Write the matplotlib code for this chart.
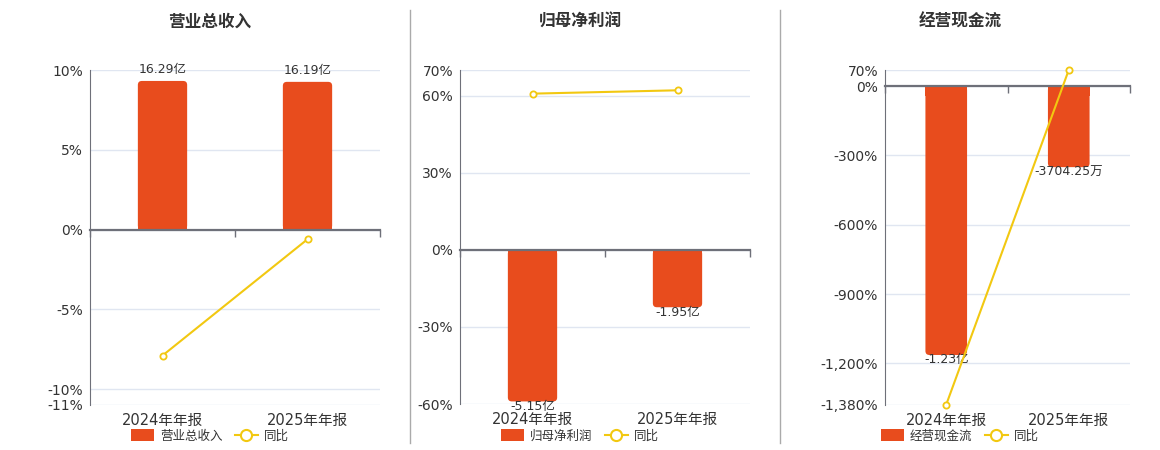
import matplotlib
matplotlib.use("Agg")
import matplotlib.pyplot as plt
from matplotlib.patches import FancyBboxPatch, Patch
from matplotlib.lines import Line2D
from matplotlib.transforms import blended_transform_factory
from matplotlib.ticker import FuncFormatter

plt.rcParams['font.family'] = ['DejaVu Sans', 'Noto Sans CJK SC']

categories = ['2024年年报', '2025年年报']

titles = ['营业总收入', '归母净利润', '经营现金流']

revenue = [16.29, 16.19]            # 亿
revenue_labels = ['16.29亿', '16.19亿']
revenue_yoy = [-7.9, -0.61]         # %

profit = [-5.15, -1.95]             # 亿
profit_labels = ['-5.15亿', '-1.95亿']
profit_yoy = [60.8, 62.1]

cashflow = [-1.23, -0.370425]       # 亿
cashflow_labels = ['-1.23亿', '-3704.25万']
cashflow_yoy = [-1378.0, 69.9]

pct_ticks = [[10, 5, 0, -5, -10, -11],
             [70, 60, 30, 0, -30, -60],
             [70, 0, -300, -600, -900, -1200, -1380]]

BAR = '#E84C1D'
LINE = '#F2C811'
AXC = '#6E7079'
GRID = '#E0E6F1'
TXT = '#333333'

W, H = 1160, 450
fig = plt.figure(figsize=(W / 100, H / 100), dpi=100)

panels = [
    dict(box=(90, 70, 380, 405), bars=revenue, labels=revenue_labels, yoy=revenue_yoy,
         plim=(-11, 10), btop=17.49, lab_pos='above', center=210),
    dict(box=(460, 70, 750, 404), bars=profit, labels=profit_labels, yoy=profit_yoy,
         plim=(-60, 70), btop=6.11, lab_pos='below', center=580),
    dict(box=(885, 70, 1130, 405), bars=cashflow, labels=cashflow_labels, yoy=cashflow_yoy,
         plim=(-1380, 70), btop=0.074, lab_pos='below', center=960),
]

def fmt_pct(v, pos=None):
    return f"{int(round(v)):,}%"

for i, p in enumerate(panels):
    l, t, r, b = p['box']
    ax = fig.add_axes([l / W, 1 - b / H, (r - l) / W, (b - t) / H])
    ax2 = ax.twinx()
    lo_p, hi_p = p['plim']
    btop = p['btop']
    bbot = btop * lo_p / hi_p
    ax.set_ylim(bbot, btop)
    ax.set_xlim(-0.5, 1.5)
    ax2.set_ylim(lo_p, hi_p)

    # grid lines (behind bars) in percent units
    tr = blended_transform_factory(ax.transAxes, ax2.transData)
    for tv in pct_ticks[i]:
        ax.plot([0, 1], [tv, tv], transform=tr, color=GRID, lw=1, zorder=0)

    x = list(range(len(categories)))
    bw = 0.34
    cont = ax.bar(x, p['bars'], width=bw, color=BAR, zorder=1)
    # rounded outer corners
    xpp = 2.0 / (r - l)
    ypp = (btop - bbot) / (b - t)
    asp = ypp / xpp
    rad = 4 * xpp
    for rect, v in zip(cont, p['bars']):
        rect.set_visible(False)
        x0 = rect.get_x()
        fb = FancyBboxPatch((x0, min(0, v)), bw, abs(v),
                            boxstyle=f"round,pad=0,rounding_size={rad}",
                            mutation_aspect=asp, fc=BAR, ec='none', zorder=1)
        ax.add_patch(fb)
        # square off the end at zero
        sq_h = min(abs(v) * 0.5, 10 * ypp)
        ax.add_patch(plt.Rectangle((x0, 0 if v > 0 else -sq_h), bw, sq_h,
                                   fc=BAR, ec='none', zorder=1))

    for xi, v, lab in zip(x, p['bars'], p['labels']):
        if p['lab_pos'] == 'above':
            ax.annotate(lab, (xi, v), xytext=(0, 11), textcoords='offset pixels',
                        ha='center', va='center', fontsize=9, color=TXT, zorder=5)
        else:
            ax.annotate(lab, (xi, v), xytext=(0, -5), textcoords='offset pixels',
                        ha='center', va='center', fontsize=9, color=TXT, zorder=5)

    # axes styling
    ax.spines['top'].set_visible(False)
    ax.spines['right'].set_visible(False)
    ax.spines['left'].set_visible(False)
    ax.spines['bottom'].set_position(('data', 0))
    ax.spines['bottom'].set_color(AXC)
    ax.spines['bottom'].set_linewidth(1.6)
    ax.set_xticks([-0.5, 0.5, 1.5])
    ax.set_xticklabels(['', '', ''])
    ax.tick_params(axis='x', direction='out', length=5, color=AXC, width=1)
    ax.set_yticks([])
    trx = blended_transform_factory(ax.transData, ax.transAxes)
    for xi, c in zip(x, categories):
        ax.text(xi, -15 / (b - t), c, transform=trx, ha='center', va='center',
                fontsize=10.5, color=TXT)

    ax2.set_zorder(ax.get_zorder() + 1)
    ax2.patch.set_visible(False)
    for s in ['top', 'right', 'bottom']:
        ax2.spines[s].set_visible(False)
    ax2.spines['left'].set_visible(True)
    ax2.spines['left'].set_color(AXC)
    ax2.yaxis.set_ticks_position('left')
    ax2.yaxis.set_label_position('left')
    ax2.set_yticks(pct_ticks[i])
    ax2.yaxis.set_major_formatter(FuncFormatter(fmt_pct))
    ax2.tick_params(axis='y', length=0, pad=5, labelsize=10, labelcolor=TXT)
    ax2.plot(x, p['yoy'], color=LINE, lw=1.5, marker='o', ms=4.5, mfc='white',
             mec=LINE, mew=1.3, zorder=4, clip_on=False)

    # title
    fig.text(p['center'] / W, 1 - 22 / H, titles[i], ha='center', va='center',
             fontsize=12, fontweight='bold', color=TXT)
    # legend
    handles = [Patch(facecolor=BAR, edgecolor='none'),
               Line2D([0], [0], color=LINE, lw=1.5, marker='o', ms=8, mfc='white',
                      mec=LINE, mew=1.5)]
    fig.legend(handles, [titles[i], '同比'], loc='center',
               bbox_to_anchor=(p['center'] / W, 1 - 436 / H), ncol=2, frameon=False,
               fontsize=9, handlelength=1.8, handleheight=1.1, columnspacing=1.0,
               handletextpad=0.5, labelcolor=TXT)

# separators
for xs in [410, 780]:
    fig.add_artist(Line2D([xs / W, xs / W], [1 - 10 / H, 1 - 443 / H], color='#AAAAAA', lw=1))

fig.savefig('out.png', dpi=100)
